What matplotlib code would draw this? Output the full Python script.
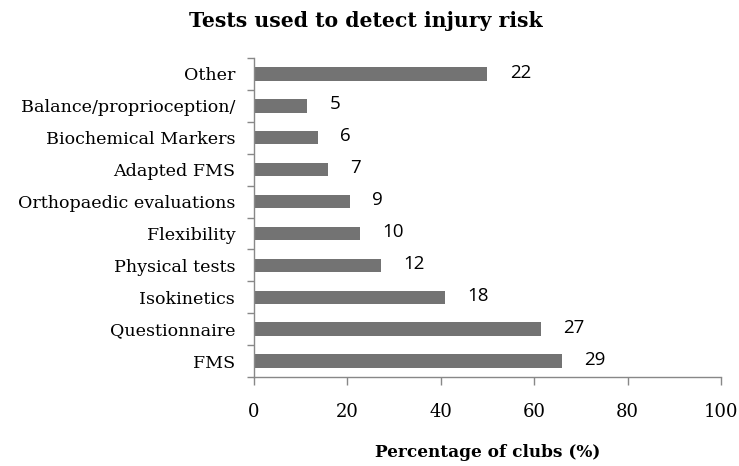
import matplotlib
matplotlib.use("Agg")
import matplotlib.pyplot as plt
import numpy as np

categories = ["FMS", "Questionnaire", "Isokinetics", "Physical tests", "Flexibility",
              "Orthopaedic evaluations", "Adapted FMS", "Biochemical Markers",
              "Balance/proprioception/", "Other"]
percentages = [65.9, 61.4, 40.9, 27.3, 22.7, 20.5, 15.9, 13.6, 11.4, 50.0]
counts = [29, 27, 18, 12, 10, 9, 7, 6, 5, 22]
xticks = [0, 20, 40, 60, 80, 100]

fig = plt.figure(figsize=(7.39, 4.66), dpi=100)
ax = fig.add_axes([254/739, 1-377/466, (721-254)/739, (377-58)/466])

y = np.arange(len(categories))
ax.barh(y, percentages, height=0.42, color="#737373", zorder=2)

ax.set_xlim(0, 100)
ax.set_ylim(-0.5, len(categories) - 0.5)
ax.set_xticks(xticks)
ax.set_xticklabels([str(t) for t in xticks], family="DejaVu Serif", fontsize=13)
ax.set_yticks(y)
ax.set_yticklabels(categories, family="DejaVu Serif", fontsize=12.6)
ax.tick_params(axis="y", length=0, pad=13.5)
ax.set_yticks(np.arange(-0.5, len(categories), 1.0), minor=True)
ax.tick_params(axis="y", which="minor", length=5, color="#888888", width=1)
ax.tick_params(axis="x", length=6, color="#888888", width=1, pad=13)

for s in ["top", "right"]:
    ax.spines[s].set_visible(False)
for s in ["left", "bottom"]:
    ax.spines[s].set_color("#888888")
    ax.spines[s].set_linewidth(1)

for yi, p, c in zip(y, percentages, counts):
    ax.annotate(str(c), xy=(p, yi), xytext=(16, 1), textcoords="offset points",
                ha="left", va="center", family="Open Sans", fontsize=13.5, color="black")

ax.set_xlabel("Percentage of clubs (%)", family="DejaVu Serif", fontweight="bold",
              fontsize=12.2, labelpad=16)
fig.text(366/739, 1-21/466, "Tests used to detect injury risk", ha="center", va="center",
         family="DejaVu Serif", fontweight="bold", fontsize=14.7)

fig.savefig("out.png", dpi=100)
